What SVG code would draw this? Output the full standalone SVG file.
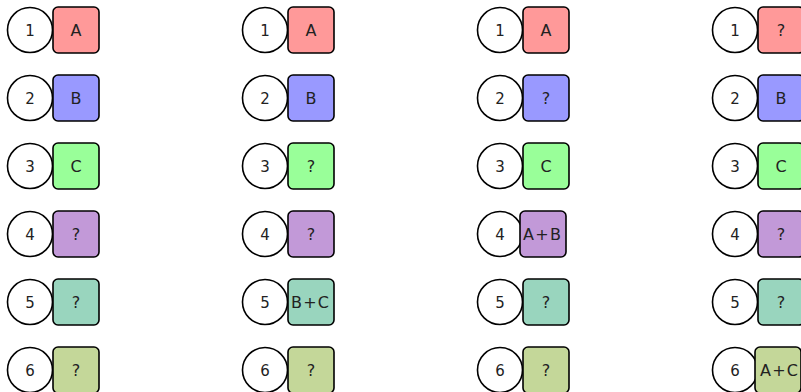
<svg xmlns="http://www.w3.org/2000/svg" width="801" height="392" viewBox="0 0 801 392">
<style>
.c{fill:#fff;stroke:#000;stroke-width:1.6}
.b{stroke:#000;stroke-width:1.6}
.r{fill:#ff9999}.u{fill:#9999ff}.g{fill:#99ff99}.p{fill:#c299d8}.t{fill:#99d5be}.o{fill:#c4d799}
text{font-family:"DejaVu Sans",sans-serif;font-size:15px;text-anchor:middle;fill:#222}
.l{font-size:16px}
</style>
<rect width="801" height="392" fill="#fff"/>
<!-- column 1 -->
<g id="c1r1"><circle class="c" cx="30" cy="30" r="22.5"/><rect class="b r" x="53" y="7" width="46" height="46" rx="5"/><text x="30" y="35.5">1</text><text class="l" x="76" y="36">A</text></g>
<g id="c1r2"><circle class="c" cx="30" cy="98" r="22.5"/><rect class="b u" x="53" y="75" width="46" height="46" rx="5"/><text x="30" y="103.5">2</text><text class="l" x="76" y="104">B</text></g>
<g id="c1r3"><circle class="c" cx="30" cy="166" r="22.5"/><rect class="b g" x="53" y="143" width="46" height="46" rx="5"/><text x="30" y="171.5">3</text><text class="l" x="76" y="172">C</text></g>
<g id="c1r4"><circle class="c" cx="30" cy="234" r="22.5"/><rect class="b p" x="53" y="211" width="46" height="46" rx="5"/><text x="30" y="239.5">4</text><text class="l" x="76" y="240">?</text></g>
<g id="c1r5"><circle class="c" cx="30" cy="302" r="22.5"/><rect class="b t" x="53" y="279" width="46" height="46" rx="5"/><text x="30" y="307.5">5</text><text class="l" x="76" y="308">?</text></g>
<g id="c1r6"><circle class="c" cx="30" cy="370" r="22.5"/><rect class="b o" x="53" y="347" width="46" height="46" rx="5"/><text x="30" y="375.5">6</text><text class="l" x="76" y="376">?</text></g>
<!-- column 2 -->
<g id="c2r1"><circle class="c" cx="265" cy="30" r="22.5"/><rect class="b r" x="288" y="7" width="46" height="46" rx="5"/><text x="265" y="35.5">1</text><text class="l" x="311" y="36">A</text></g>
<g id="c2r2"><circle class="c" cx="265" cy="98" r="22.5"/><rect class="b u" x="288" y="75" width="46" height="46" rx="5"/><text x="265" y="103.5">2</text><text class="l" x="311" y="104">B</text></g>
<g id="c2r3"><circle class="c" cx="265" cy="166" r="22.5"/><rect class="b g" x="288" y="143" width="46" height="46" rx="5"/><text x="265" y="171.5">3</text><text class="l" x="311" y="172">?</text></g>
<g id="c2r4"><circle class="c" cx="265" cy="234" r="22.5"/><rect class="b p" x="288" y="211" width="46" height="46" rx="5"/><text x="265" y="239.5">4</text><text class="l" x="311" y="240">?</text></g>
<g id="c2r5"><circle class="c" cx="265" cy="302" r="22.5"/><rect class="b t" x="288" y="279" width="46" height="46" rx="5"/><text x="265" y="307.5">5</text><text class="l" x="310" y="308" textLength="38" lengthAdjust="spacing">B+C</text></g>
<g id="c2r6"><circle class="c" cx="265" cy="370" r="22.5"/><rect class="b o" x="288" y="347" width="46" height="46" rx="5"/><text x="265" y="375.5">6</text><text class="l" x="311" y="376">?</text></g>
<!-- column 3 -->
<g id="c3r1"><circle class="c" cx="500" cy="30" r="22.5"/><rect class="b r" x="523" y="7" width="46" height="46" rx="5"/><text x="500" y="35.5">1</text><text class="l" x="546" y="36">A</text></g>
<g id="c3r2"><circle class="c" cx="500" cy="98" r="22.5"/><rect class="b u" x="523" y="75" width="46" height="46" rx="5"/><text x="500" y="103.5">2</text><text class="l" x="546" y="104">?</text></g>
<g id="c3r3"><circle class="c" cx="500" cy="166" r="22.5"/><rect class="b g" x="523" y="143" width="46" height="46" rx="5"/><text x="500" y="171.5">3</text><text class="l" x="546" y="172">C</text></g>
<g id="c3r4"><circle class="c" cx="500" cy="234" r="22.5"/><rect class="b p" x="520" y="211" width="46" height="46" rx="5"/><text x="500" y="239.5">4</text><text class="l" x="542" y="240" textLength="38" lengthAdjust="spacing">A+B</text></g>
<g id="c3r5"><circle class="c" cx="500" cy="302" r="22.5"/><rect class="b t" x="523" y="279" width="46" height="46" rx="5"/><text x="500" y="307.5">5</text><text class="l" x="546" y="308">?</text></g>
<g id="c3r6"><circle class="c" cx="500" cy="370" r="22.5"/><rect class="b o" x="523" y="347" width="46" height="46" rx="5"/><text x="500" y="375.5">6</text><text class="l" x="546" y="376">?</text></g>
<!-- column 4 -->
<g id="c4r1"><circle class="c" cx="735" cy="30" r="22.5"/><rect class="b r" x="758" y="7" width="46" height="46" rx="5"/><text x="735" y="35.5">1</text><text class="l" x="781" y="36">?</text></g>
<g id="c4r2"><circle class="c" cx="735" cy="98" r="22.5"/><rect class="b u" x="758" y="75" width="46" height="46" rx="5"/><text x="735" y="103.5">2</text><text class="l" x="781" y="104">B</text></g>
<g id="c4r3"><circle class="c" cx="735" cy="166" r="22.5"/><rect class="b g" x="758" y="143" width="46" height="46" rx="5"/><text x="735" y="171.5">3</text><text class="l" x="781" y="172">C</text></g>
<g id="c4r4"><circle class="c" cx="735" cy="234" r="22.5"/><rect class="b p" x="758" y="211" width="46" height="46" rx="5"/><text x="735" y="239.5">4</text><text class="l" x="781" y="240">?</text></g>
<g id="c4r5"><circle class="c" cx="735" cy="302" r="22.5"/><rect class="b t" x="758" y="279" width="46" height="46" rx="5"/><text x="735" y="307.5">5</text><text class="l" x="781" y="308">?</text></g>
<g id="c4r6"><circle class="c" cx="735" cy="370" r="22.5"/><rect class="b o" x="755" y="347" width="46" height="46" rx="5"/><text x="735" y="375.5">6</text><text class="l" x="779" y="376" textLength="38" lengthAdjust="spacing">A+C</text></g>
</svg>
